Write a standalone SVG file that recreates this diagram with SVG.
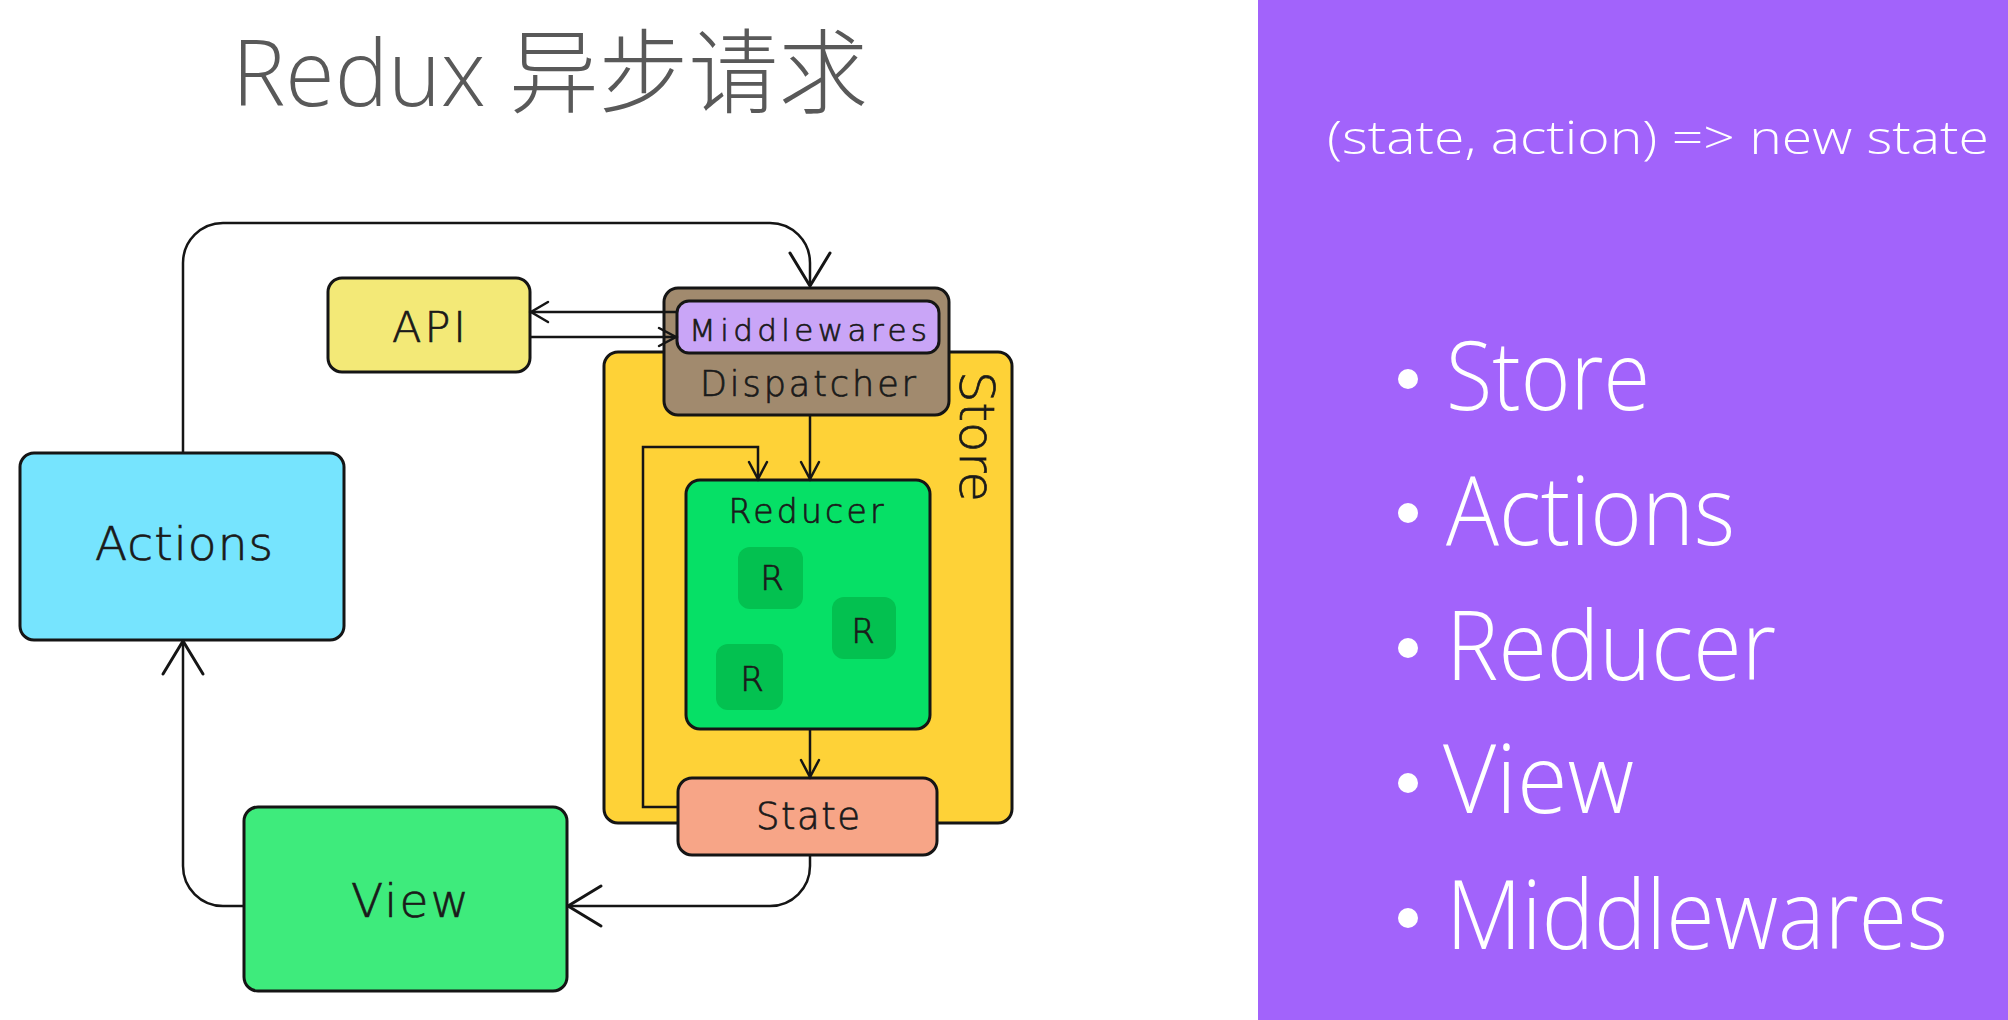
<svg xmlns="http://www.w3.org/2000/svg" width="2008" height="1020" viewBox="0 0 2008 1020">
<defs>
<style>
.box{stroke:#151515;stroke-width:3}
.lbl{font-family:"DejaVu Sans","Liberation Sans",sans-serif;font-weight:300;fill:#1a1a1a;stroke:#1a1a1a;stroke-width:0.7;text-anchor:middle}
.con{fill:none;stroke:#151515;stroke-width:2.5}
.pnl{font-family:"Open Sans","Noto Sans",sans-serif;font-weight:300;fill:#ffffff}
</style>
<marker id="big" viewBox="-36 -24 40 48" refX="0" refY="0" markerWidth="40" markerHeight="48" markerUnits="userSpaceOnUse" orient="auto"><path d="M-33,-20 L0,0 L-33,20" fill="none" stroke="#151515" stroke-width="3" stroke-linecap="round" stroke-linejoin="round"/></marker>
<marker id="mid" viewBox="-20 -14 24 28" refX="0" refY="0" markerWidth="24" markerHeight="28" markerUnits="userSpaceOnUse" orient="auto"><path d="M-17,-10 L0,0 L-17,10" fill="none" stroke="#151515" stroke-width="2.5" stroke-linecap="round"/></marker>
<marker id="sml" viewBox="-20 -12 24 24" refX="0" refY="0" markerWidth="24" markerHeight="24" markerUnits="userSpaceOnUse" orient="auto"><path d="M-17,-9 L0,0 L-17,9" fill="none" stroke="#151515" stroke-width="2.5" stroke-linecap="round"/></marker>
</defs>
<rect x="0" y="0" width="2008" height="1020" fill="#ffffff"/>
<g id="title"><text x="232" y="106" font-family="'Open Sans','Noto Sans CJK SC',sans-serif" font-weight="300" font-size="92" fill="#595959" textLength="636" lengthAdjust="spacingAndGlyphs">Redux 异步请求</text></g>

<g id="store"><rect class="box" x="604" y="352" width="408" height="471" rx="14" fill="#FED237" stroke-width="2.5"/>
<text class="lbl" transform="translate(960,371) rotate(90)" font-size="48" style="text-anchor:start" textLength="131" lengthAdjust="spacingAndGlyphs">Store</text></g>
<g id="actions"><rect class="box" x="20" y="453" width="324" height="187" rx="14" fill="#76E4FE"/>
<text class="lbl" x="184" y="560" font-size="47" textLength="178" lengthAdjust="spacing">Actions</text></g>
<g id="api"><rect class="box" x="328" y="278" width="202" height="94" rx="14" fill="#F3E977"/>
<text class="lbl" x="429" y="342" font-size="43" textLength="74" lengthAdjust="spacing">API</text></g>
<g id="dispatcher"><rect class="box" x="664" y="288" width="285" height="127" rx="14" fill="#A18A6E"/>
<text class="lbl" x="808" y="396" font-size="35" textLength="216" lengthAdjust="spacing">Dispatcher</text></g>
<g id="middlewares"><rect class="box" x="677" y="301" width="262" height="52" rx="12" fill="#C9A5F7"/>
<text class="lbl" x="808" y="341" font-size="31" textLength="238" lengthAdjust="spacing">Middlewares</text></g>
<g id="reducer"><rect class="box" x="686" y="480" width="244" height="249" rx="14" fill="#06E066"/>
<text class="lbl" x="806" y="523" font-size="33" textLength="155" lengthAdjust="spacing">Reducer</text></g>
<g id="r1"><rect x="738" y="547" width="65" height="62" rx="12" fill="#03C150"/><text class="lbl" x="772" y="590" font-size="34">R</text></g>
<g id="r2"><rect x="832" y="597" width="64" height="62" rx="12" fill="#03C150"/><text class="lbl" x="863" y="643" font-size="34">R</text></g>
<g id="r3"><rect x="716" y="644" width="67" height="66" rx="12" fill="#03C150"/><text class="lbl" x="752" y="691" font-size="34">R</text></g>
<g id="state"><rect class="box" x="678" y="778" width="259" height="77" rx="14" fill="#F7A587"/>
<text class="lbl" x="808" y="829" font-size="37" textLength="104" lengthAdjust="spacing">State</text></g>
<g id="view"><rect class="box" x="244" y="807" width="323" height="184" rx="14" fill="#3EEB7C"/>
<text class="lbl" x="410" y="917" font-size="47" textLength="118" lengthAdjust="spacing">View</text></g>

<g id="connectors">
<path class="con" d="M183,453 L183,263 A40,40 0 0 1 223,223 L770,223 A40,40 0 0 1 810,263 L810,286" marker-end="url(#big)"/>
<path class="con" d="M677,312 L531,312" stroke-width="3.5" marker-end="url(#mid)"/>
<path class="con" d="M530,337 L676,337" marker-end="url(#sml)"/>
<path class="con" d="M810,416 L810,479" marker-end="url(#sml)"/>
<path class="con" d="M678,807 L643,807 L643,447 L758,447 L758,479" marker-end="url(#sml)"/>
<path class="con" d="M810,730 L810,777" marker-end="url(#sml)"/>
<path class="con" d="M810,856 L810,866 A40,40 0 0 1 770,906 L568,906" marker-end="url(#big)"/>
<path class="con" d="M244,906 L223,906 A40,40 0 0 1 183,866 L183,641" marker-end="url(#big)"/>
</g>

<g id="panel">
<rect x="1258" y="0" width="750" height="1020" fill="#A263FB"/>
<text class="pnl" x="1327" y="154" font-size="46" textLength="662" lengthAdjust="spacingAndGlyphs">(state, action) =&gt; new state</text>
<circle cx="1408" cy="379" r="10" fill="#ffffff"/>
<text class="pnl" x="1446" y="410" font-size="95" textLength="204" lengthAdjust="spacingAndGlyphs">Store</text>
<circle cx="1408" cy="513" r="10" fill="#ffffff"/>
<text class="pnl" x="1446" y="545" font-size="95" textLength="289" lengthAdjust="spacingAndGlyphs">Actions</text>
<circle cx="1408" cy="648" r="10" fill="#ffffff"/>
<text class="pnl" x="1446" y="680" font-size="95" textLength="330" lengthAdjust="spacingAndGlyphs">Reducer</text>
<circle cx="1408" cy="783" r="10" fill="#ffffff"/>
<text class="pnl" x="1443" y="813" font-size="95" textLength="191" lengthAdjust="spacingAndGlyphs">View</text>
<circle cx="1408" cy="918" r="10" fill="#ffffff"/>
<text class="pnl" x="1446" y="949" font-size="95" textLength="502" lengthAdjust="spacingAndGlyphs">Middlewares</text>
</g>
</svg>
